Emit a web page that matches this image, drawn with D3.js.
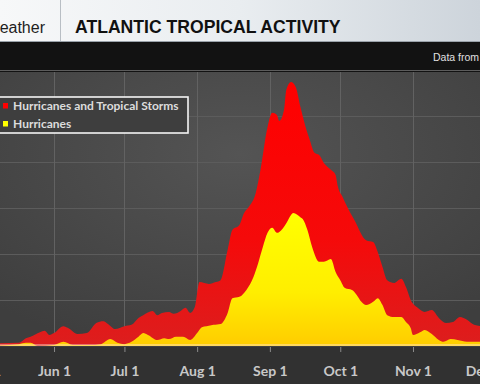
<!DOCTYPE html>
<html><head><meta charset="utf-8">
<script src="https://cdn.jsdelivr.net/npm/d3@7"></script>
<style>html,body{margin:0;padding:0;background:#111;overflow:hidden}svg{display:block}</style>
</head><body>
<svg id="c" width="480" height="384"></svg>
<script>
// ---- data (days after May 1, value per 100 years) ----
const redDays   = [0,8,16,19,21,25,27,29,31,35,37,41,45,49,52,54,57,61,64,67,69,73,75,77,80,82,85,87,89,91,93,95,97,100,102,105,107,110,112,114,117,119,122,124,126,127,129,130,132,134,136,138,140,142,144,146,149,151,152,154,156,159,164,167,169,171,173,176,179,181,183,186,189,192,195,198,201,204,207,210,213];
const redValues = [0.02,0.06,0.07,0.17,0.2,0.3,0.33,0.24,0.28,0.43,0.39,0.26,0.28,0.5,0.54,0.48,0.37,0.43,0.46,0.61,0.67,0.76,0.67,0.72,0.74,0.7,0.76,0.83,0.72,0.85,1.39,1.37,1.35,1.39,1.43,2.09,2.52,2.63,2.89,3.02,3.33,3.83,4.76,5.07,5.02,4.89,5.13,5.57,5.74,5.63,5.2,4.8,4.48,4.2,4.15,3.98,3.83,3.72,3.46,3.24,3.02,2.74,2.3,2.26,2.04,1.72,1.43,1.37,1.46,1.28,1.0,0.83,0.74,0.78,0.61,0.5,0.52,0.63,0.57,0.46,0.43];
const yellowDays   = [0,16,19,21,24,31,35,39,46,51,55,58,61,64,67,69,71,75,78,80,83,86,89,92,94,96,99,102,105,107,110,113,116,118,120,122,124,126,127,130,132,133,136,137,139,141,144,146,149,151,153,155,158,160,162,164,167,169,171,173,176,179,181,183,184,187,189,192,195,197,200,203,207,213];
const yellowValues = [0,0.04,0.07,0.07,0,0.02,0.09,0.02,0.02,0.04,0.15,0.07,0.04,0.09,0.2,0.28,0.24,0.13,0.17,0.15,0.2,0.2,0.13,0.28,0.41,0.43,0.46,0.48,0.72,1.04,1.07,1.22,1.5,1.8,2.15,2.46,2.57,2.46,2.48,2.67,2.85,2.89,2.8,2.76,2.52,2.15,1.83,1.83,1.89,1.61,1.43,1.26,1.22,1.11,0.96,0.89,0.96,1.04,0.89,0.67,0.63,0.63,0.52,0.39,0.24,0.3,0.35,0.26,0.13,0.09,0.15,0.13,0.09,0.09];
const tickLabels = ["May 1","Jun 1","Jul 1","Aug 1","Sep 1","Oct 1","Nov 1","Dec 1"];
const seriesNames = ["Hurricanes and Tropical Storms","Hurricanes"];
const title = "ATLANTIC TROPICAL ACTIVITY";

const svg = d3.select("#c");
const W = 480, H = 384;
const start = new Date(2021,4,1);
const dayToDate = d => d3.timeDay.offset(start, d);
const tickDates = d3.range(8).map(i => new Date(2021, 4 + i, 1));

const x = d3.scaleTime().domain([tickDates[0], tickDates[7]]).range([-18.7, 483.4]);
const y = d3.scaleLinear().domain([0, 6]).range([346, 70]);

const defs = svg.append("defs");
const hg = defs.append("linearGradient").attr("id","hg").attr("x1",0).attr("x2",1).attr("y1",0).attr("y2",0);
hg.append("stop").attr("offset",0).attr("stop-color","#f7f8f9");
hg.append("stop").attr("offset",0.5).attr("stop-color","#e9edf0");
hg.append("stop").attr("offset",1).attr("stop-color","#cdd4db");
const pg = defs.append("radialGradient").attr("id","pg").attr("cx",0.5).attr("cy",0.3).attr("r",0.75);
pg.append("stop").attr("offset",0).attr("stop-color","#545454");
pg.append("stop").attr("offset",1).attr("stop-color","#3e3e3e");
const rg = defs.append("linearGradient").attr("id","rg").attr("gradientUnits","userSpaceOnUse").attr("x1",0).attr("x2",0).attr("y1",y(5.8)).attr("y2",y(0));
rg.append("stop").attr("offset",0).attr("stop-color","#ff0000");
rg.append("stop").attr("offset",0.6).attr("stop-color","#f50a0a");
rg.append("stop").attr("offset",1).attr("stop-color","#dc1e1e");
const yg = defs.append("linearGradient").attr("id","yg").attr("gradientUnits","userSpaceOnUse").attr("x1",0).attr("x2",0).attr("y1",y(2.9)).attr("y2",y(0));
yg.append("stop").attr("offset",0).attr("stop-color","#ffff00");
yg.append("stop").attr("offset",0.6).attr("stop-color","#ffee00");
yg.append("stop").attr("offset",1).attr("stop-color","#ffcc00");

// header
svg.append("rect").attr("x",0).attr("y",0).attr("width",W).attr("height",42).attr("fill","url(#hg)");
svg.append("line").attr("x1",60.5).attr("x2",60.5).attr("y1",0).attr("y2",42).attr("stroke","#b8bec4");
svg.append("line").attr("x1",0).attr("x2",W).attr("y1",41.5).attr("y2",41.5).attr("stroke","#9aa2aa");
svg.append("text").attr("x",45).attr("y",33).attr("text-anchor","end").attr("font-family","Liberation Sans, Arial, sans-serif").attr("font-size",16).attr("fill","#1e1e1e").text("eather");
svg.append("text").attr("x",75).attr("y",33).attr("font-family","Liberation Sans, Arial, sans-serif").attr("font-weight","bold").attr("font-size",17.6).attr("fill","#111").text(title);
// black band
svg.append("rect").attr("x",0).attr("y",42).attr("width",W).attr("height",30).attr("fill","#121212");
svg.append("text").attr("x",433).attr("y",61).attr("font-family","Liberation Sans, Arial, sans-serif").attr("font-size",10.5).attr("fill","#e0e0e0").text("Data from NOAA");

// plot bg
svg.append("rect").attr("x",0).attr("y",72).attr("width",W).attr("height",275).attr("fill","url(#pg)");
svg.append("rect").attr("x",0).attr("y",347).attr("width",W).attr("height",37).attr("fill","#313131");

// grid
svg.append("g").selectAll("line").data([1,2,3,4,5,6]).join("line")
  .attr("x1",0).attr("x2",W).attr("y1",d=>Math.round(y(d))+0.5).attr("y2",d=>Math.round(y(d))+0.5)
  .attr("stroke","#5c5c5c").attr("stroke-width",1);
svg.append("g").selectAll("line").data(tickDates).join("line")
  .attr("x1",d=>Math.round(x(d))+0.5).attr("x2",d=>Math.round(x(d))+0.5).attr("y1",72).attr("y2",346)
  .attr("stroke","#626262").attr("stroke-width",1);

// areas
const red = redDays.map((d,i)=>({date:dayToDate(d), v:redValues[i]}));
const yel = yellowDays.map((d,i)=>({date:dayToDate(d), v:yellowValues[i]}));
const area = d3.area().x(d=>x(d.date)).y0(y(0)).y1(d=>y(d.v)).curve(d3.curveMonotoneX);
svg.append("path").datum(red).attr("d",area).attr("fill","url(#rg)");
svg.append("path").datum(yel).attr("d",area).attr("fill","url(#yg)");

// baseline
svg.append("line").attr("x1",0).attr("x2",W).attr("y1",345).attr("y2",345).attr("stroke","rgba(255,235,225,0.55)").attr("stroke-width",1.5);

// axis
const ax = svg.append("g").attr("transform","translate(0,347)")
  .call(d3.axisBottom(x).tickValues(tickDates).tickFormat((d,i)=>tickLabels[i]).tickSize(5).tickPadding(14));
ax.select(".domain").remove();
ax.selectAll(".tick line").attr("stroke","#8a8a8a");
ax.selectAll(".tick text").attr("fill","#c8c8c8").attr("font-family","Lato, Open Sans, sans-serif").attr("font-weight","bold").attr("font-size",14);

// legend
const lg = svg.append("g");
lg.append("rect").attr("x",-10).attr("y",97).attr("width",198).attr("height",36).attr("fill","#3e3e3e").attr("stroke","#f4f4f4").attr("stroke-width",1.6);
const legColors = ["#ff0000","#ffff00"];
seriesNames.forEach((n,i)=>{
  lg.append("rect").attr("x",3).attr("y",103+i*18).attr("width",5).attr("height",5.5).attr("fill",legColors[i]);
  lg.append("text").attr("x",13).attr("y",109.5+i*18).attr("font-family","Lato, Open Sans, sans-serif").attr("font-weight","bold").attr("font-size",12).attr("fill","#dcdcdc").text(n);
});
</script>
</body></html>
